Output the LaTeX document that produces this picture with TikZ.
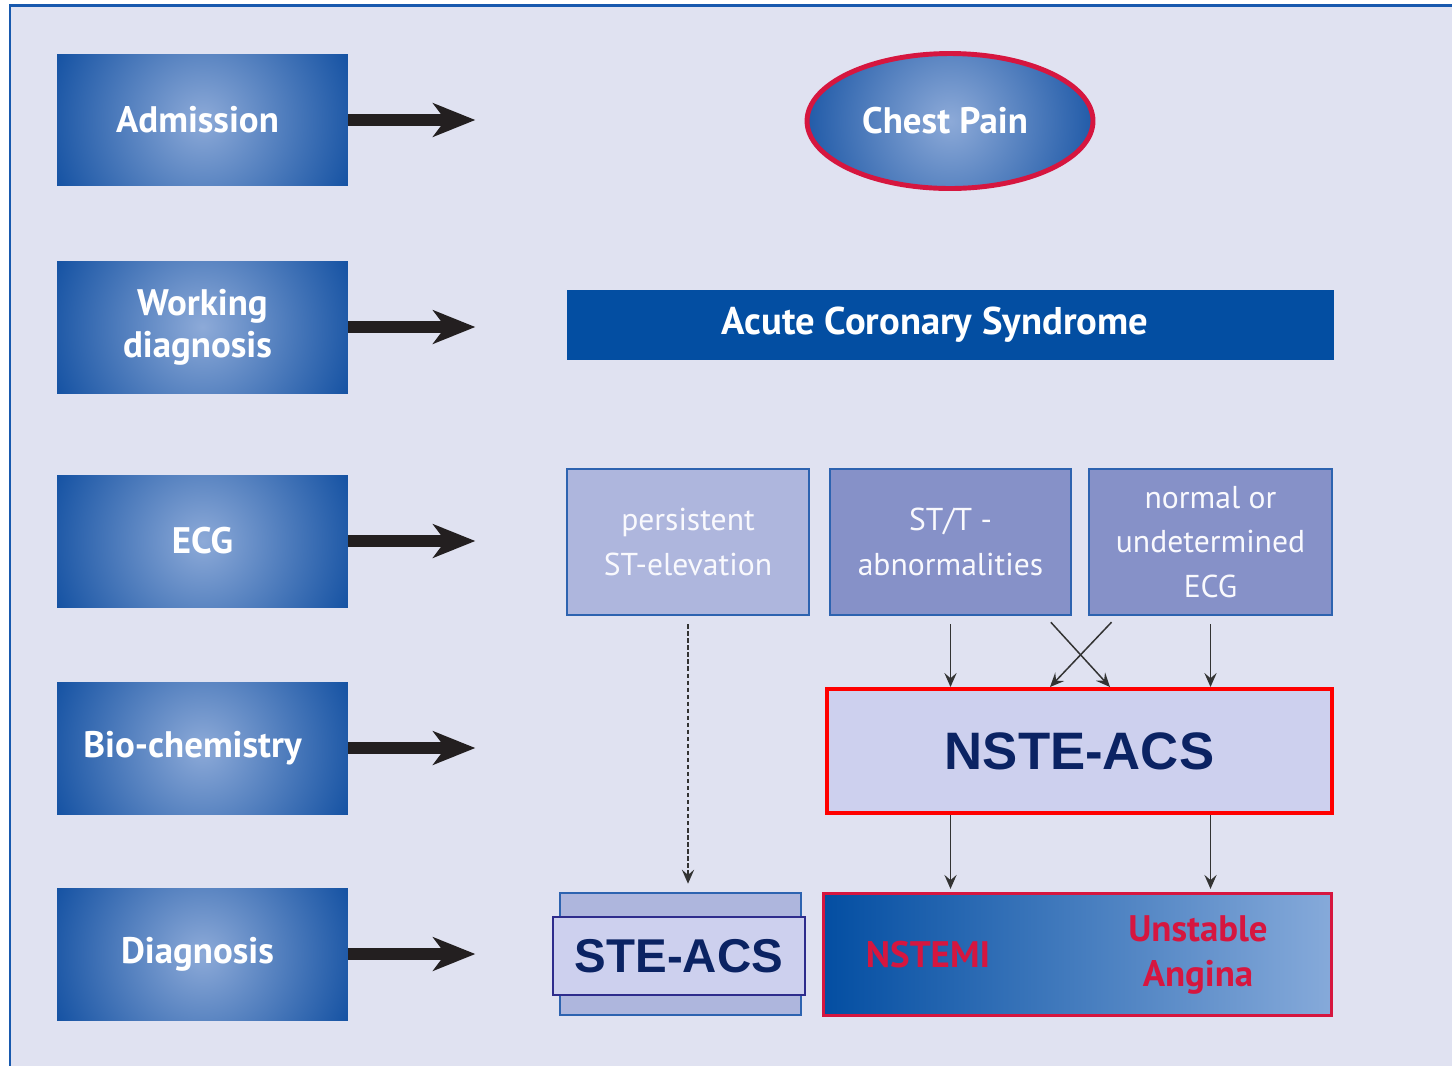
\documentclass[tikz,border=0pt]{standalone}
\usepackage{fontspec}
\setmainfont{PT Sans}
\newfontfamily\arialfont{Liberation Sans}
\usepackage{tikz}
\usetikzlibrary{arrows.meta,positioning,shapes.geometric}
\definecolor{paper}{HTML}{E0E2F1}
\definecolor{frame}{HTML}{1859AE}
\definecolor{deep}{HTML}{0A4A9E}
\definecolor{glow}{HTML}{8DAAD8}
\definecolor{acsblue}{HTML}{034EA2}
\definecolor{pale}{HTML}{AEB6DD}
\definecolor{mid}{HTML}{8691C8}
\definecolor{edge}{HTML}{2D63B0}
\definecolor{lilac}{HTML}{CDD0EE}
\definecolor{crimson}{HTML}{D6163F}
\definecolor{navy}{HTML}{0B2363}
\definecolor{indigo}{HTML}{2E2C8C}
\definecolor{sky}{HTML}{86AADA}
\definecolor{ink}{HTML}{231F20}

\begin{document}
\begin{tikzpicture}[x=0.02cm, y=-0.02cm,
  glowfill/.style={path picture={\shade[inner color=glow, outer color=deep]
    (path picture bounding box.center) circle (3.5cm);}},
  stage/.style={rectangle, inner sep=0pt, minimum width=5.82cm, minimum height=2.64cm,
    glowfill, text=white, align=center, font=\fontsize{21}{24}\selectfont\bfseries},
  bigarrow/.style={line width=6.8pt, ink, -{Stealth[length=24pt, width=19pt, inset=7pt]}},
  ecgbox/.style={rectangle, draw=edge, line width=1.6pt, minimum height=2.92cm, inner sep=0pt,
    text=white!88!lilac, align=center, font=\fontsize{18}{25.5}\selectfont},
  flowarrow/.style={line width=0.85pt, black!80, -{Stealth[length=8pt, width=7pt, inset=3pt]}},
  redtext/.style={text=crimson, align=center, font=\fontsize{21}{26}\selectfont\bfseries}]
\useasboundingbox (0,0) rectangle (1452,1066);
% panel
\fill[paper] (10,5) rectangle (1452,1066);
\draw[frame, line width=1.7pt] (1452,5) -- (10,5) -- (10,1066);

% stages on the left
\node[stage] (adm) at (202.5,120) {Admission\hspace*{0.2cm}};
\node[stage] (work) at (202.5,327) {Working\\diagnosis\hspace*{0.2cm}};
\node[stage] (ecg) at (202.5,541) {ECG};
\node[stage] (bio) at (202.5,748) {Bio-chemistry\hspace*{0.4cm}};
\node[stage] (diag) at (202.5,954) {Diagnosis\hspace*{0.2cm}};
\foreach \n in {adm,work,ecg,bio,diag} {
  \path (\n.east) ++(127,0) coordinate (\n-to);
  \draw[bigarrow] (\n.east) -- (\n-to);
}

% admission and working diagnosis
\node[ellipse, draw=crimson, line width=2.8pt, glowfill,
  minimum width=5.72cm, minimum height=2.7cm, text=white,
  font=\fontsize{21}{24}\selectfont\bfseries] (pain) at (950,121) {Chest Pain\hspace*{0.2cm}};
\node[rectangle, fill=acsblue, minimum width=15.34cm, minimum height=1.4cm, text=white,
  font=\fontsize{22}{25}\selectfont\bfseries] (acs) at (950.5,325) {Acute Coronary Syndrome\hspace*{0.62cm}};

% ECG findings
\node[ecgbox, fill=pale, minimum width=4.84cm] (pers) at (688,542) {persistent\\ST-elevation};
\node[ecgbox, fill=mid, minimum width=4.82cm] (stt) at (950.5,542) {ST/T -\\abnormalities};
\node[ecgbox, fill=mid, minimum width=4.86cm] (norm) at (1210.5,542) {normal or\\undetermined\\ECG};

\node[rectangle, draw=red, line width=2.3pt, fill=lilac, minimum width=10.1cm, minimum height=2.48cm,
  text=navy, font=\arialfont\fontsize{30}{34}\selectfont\bfseries] (nste) at (1079.5,751) {NSTE-ACS};

% diagnoses
\node[rectangle, draw=edge, line width=1.6pt, fill=pale, minimum width=4.82cm, minimum height=2.44cm] (steback) at (680.5,954) {};
\node[rectangle, draw=indigo, line width=1.6pt, fill=lilac, minimum width=5.04cm, minimum height=1.56cm,
  text=navy, font=\arialfont\fontsize{27}{30}\selectfont\bfseries] (ste) at (679,956) {STE-ACS};
\node[rectangle, draw=crimson, line width=1.7pt, left color=acsblue, right color=sky,
  minimum width=10.18cm, minimum height=2.44cm] (nsbox) at (1077.5,954) {};
\node[redtext] (nstemi) at (928,955) {NSTEMI};
\node[redtext] (ua) at (1198,955) {Unstable\\Angina};

% connectors
\draw[flowarrow, dash pattern=on 2.5pt off 1.5pt, shorten <=4.5pt, shorten >=4.5pt] (pers.south) -- (pers.south |- steback.north);
\draw[flowarrow, shorten <=4.5pt] (stt.south) -- (stt.south |- nste.north);
\draw[flowarrow, shorten <=4.5pt] (norm.south) -- (norm.south |- nste.north);
\draw[flowarrow, shorten <=4.5pt] ([xshift=1.9cm]stt.south) -- ([xshift=0.61cm]nste.north);
\draw[flowarrow, shorten <=4.5pt] ([xshift=-1.87cm]norm.south) -- ([xshift=-0.59cm]nste.north);
\draw[flowarrow, shorten >=1.5pt] (nste.south -| stt.south) -- (nsbox.north -| stt.south);
\draw[flowarrow, shorten >=1.5pt] (nste.south -| norm.south) -- (nsbox.north -| norm.south);
\end{tikzpicture}
\end{document}
